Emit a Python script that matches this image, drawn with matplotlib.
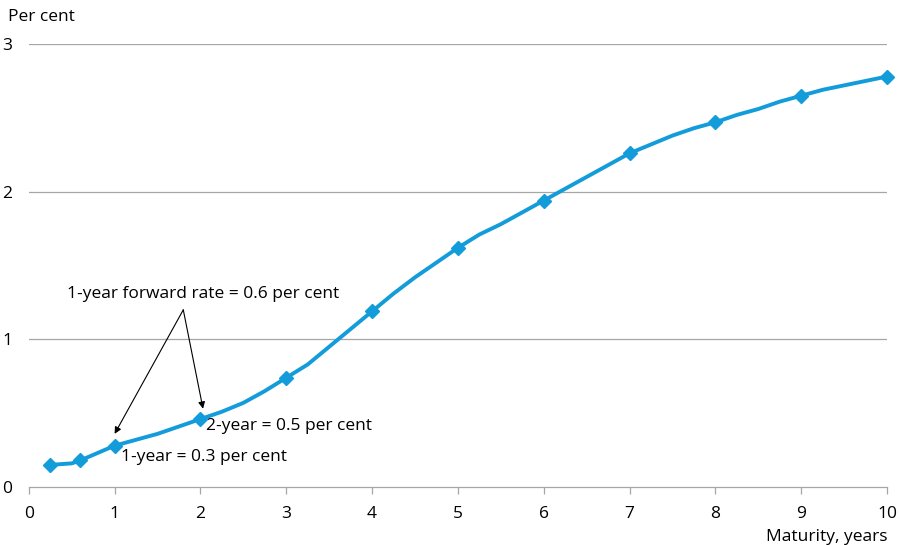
import matplotlib.pyplot as plt
import numpy as np

plt.rcParams['font.family'] = ['Open Sans', 'DejaVu Sans']

# maturities with markers and their yields (per cent)
mat = [0.25, 0.6, 1, 2, 3, 4, 5, 6, 7, 8, 9, 10]
yld = [0.15, 0.18, 0.28, 0.46, 0.74, 1.19, 1.62, 1.94, 2.26, 2.47, 2.65, 2.78]

# the curve itself, read at finer maturity steps
curve_x = [0.25, 0.5, 0.6, 0.8, 1, 1.25, 1.5, 1.8, 2, 2.25, 2.5, 2.75, 3, 3.25,
           3.5, 3.75, 4, 4.25, 4.5, 4.75, 5, 5.25, 5.5, 5.75, 6, 6.25, 6.5,
           6.75, 7, 7.25, 7.5, 7.75, 8, 8.25, 8.5, 8.75, 9, 9.25, 9.5, 9.75, 10]
curve_y = [0.15, 0.16, 0.18, 0.23, 0.28, 0.32, 0.36, 0.42, 0.46, 0.51, 0.57,
           0.65, 0.74, 0.83, 0.95, 1.07, 1.19, 1.31, 1.42, 1.52, 1.62, 1.71,
           1.78, 1.86, 1.94, 2.02, 2.10, 2.18, 2.26, 2.32, 2.38, 2.43, 2.47,
           2.52, 2.56, 2.61, 2.65, 2.69, 2.72, 2.75, 2.78]

blue = '#129cda'
grey = '#a6a6a6'

fig = plt.figure(figsize=(9, 5.45), dpi=100)
ax = fig.add_axes([0.032, 0.1064, 0.9536, 0.8128])

ax.plot(curve_x, curve_y, color=blue, lw=2.8, clip_on=False, zorder=3,
        solid_joinstyle='round')
ax.plot(mat, yld, ls='none', marker='D', ms=7.5, color=blue, clip_on=False, zorder=4)

ax.set_xlim(0, 10)
ax.set_ylim(0, 3)
ax.set_xticks(range(11))
ax.set_yticks([0, 1, 2, 3])
for v in [1, 2, 3]:
    ax.axhline(v, color=grey, lw=0.9, zorder=1)

for s in ['left', 'right', 'top']:
    ax.spines[s].set_visible(False)
ax.spines['bottom'].set_color(grey)
ax.spines['bottom'].set_linewidth(0.9)
ax.tick_params(axis='x', direction='out', length=5, color=grey, width=0.9,
               labelsize=12.5, pad=9)
ax.tick_params(axis='y', length=0, labelsize=12.5, pad=12)

fig.text(0.009, 0.968, 'Per cent', fontsize=12.5, va='center', ha='left')
fig.text(0.9856, 0.0, 'Maturity, years', fontsize=12.5, va='bottom', ha='right')

# annotations
ax.text(2.07, 0.41, '2-year = 0.5 per cent', fontsize=12.5, va='center', ha='left')
ax.text(1.08, 0.2, '1-year = 0.3 per cent', fontsize=12.5, va='center', ha='left')
ax.text(2.03, 1.31, '1-year forward rate = 0.6 per cent', fontsize=12.5,
        va='center', ha='center')
apex = (1.8, 1.2)
ax.annotate('', xy=(1.0, 0.36), xytext=apex,
            arrowprops=dict(arrowstyle='-|>', color='black', lw=0.8,
                            mutation_scale=10, shrinkA=0, shrinkB=0))
ax.annotate('', xy=(2.03, 0.53), xytext=apex,
            arrowprops=dict(arrowstyle='-|>', color='black', lw=0.8,
                            mutation_scale=10, shrinkA=0, shrinkB=0))

fig.savefig('out.png', dpi=100)
